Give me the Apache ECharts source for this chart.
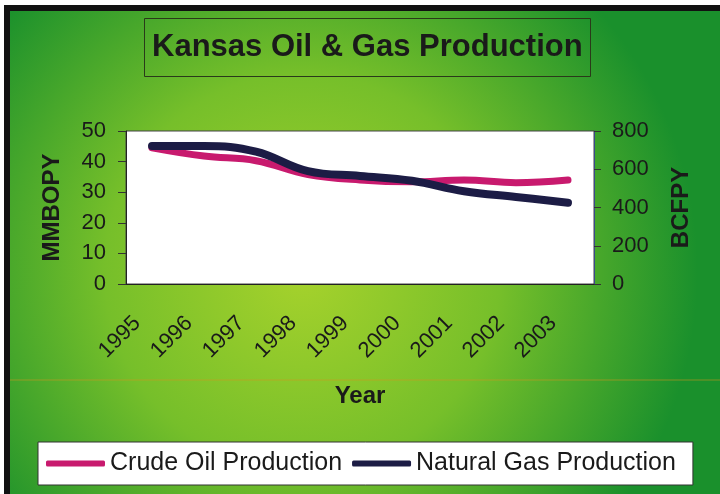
<!DOCTYPE html>
<html>
<head>
<meta charset="utf-8">
<script src="https://cdn.jsdelivr.net/npm/echarts@6/dist/echarts.min.js"></script>
<style>
  html, body { margin: 0; padding: 0; background: #fff; }
  #chart { width: 720px; height: 494px; }
</style>
</head>
<body>
<div id="chart"></div>
<script>
// values
const years = ["1995", "1996", "1997", "1998", "1999", "2000", "2001", "2002", "2003"];
const crudeOil = [44.5, 41.8, 40.3, 35.8, 34, 33.4, 34, 33.1, 34];   // MMBOPY
const naturalGas = [722, 722, 692, 590, 565, 540, 485, 455, 425];   // BCFPY
const leftTicks = { min: 0, max: 50, interval: 10 };
const rightTicks = { min: 0, max: 800, interval: 200 };

const font = "Liberation Sans, Arial, sans-serif";
const ink = "#1a1a1a";

let chart = echarts.init(document.getElementById("chart"));

let option = {
  backgroundColor: new echarts.graphic.RadialGradient(0.42, 0.55, 0.8, [
    { offset: 0, color: "#a6d22c" },
    { offset: 0.5, color: "#76bf2a" },
    { offset: 1, color: "#1a902c" }
  ]),
  textStyle: { fontFamily: font, color: ink },
  title: {
    text: "Kansas Oil & Gas Production",
    left: 144,
    top: 18,
    padding: [14, 8, 14, 8],
    borderColor: "#2a3a1a",
    borderWidth: 1,
    textStyle: { fontSize: 31, fontWeight: "bold", color: ink, fontFamily: font }
  },
  legend: {
    left: 38,
    top: 442,
    padding: [9, 17, 9, 8],
    backgroundColor: "#fff",
    borderColor: "#333",
    borderWidth: 1,
    itemGap: 10,
    itemWidth: 59,
    itemHeight: 6,
    icon: "roundRect",
    textStyle: { fontSize: 25, color: ink, fontFamily: font },
    data: ["Crude Oil Production", "Natural Gas Production"]
  },
  grid: {
    left: 126,
    right: 126,
    top: 131,
    bottom: 210,
    show: true,
    backgroundColor: "#fff",
    borderColor: "#444",
    borderWidth: 1
  },
  xAxis: {
    type: "category",
    data: years,
    boundaryGap: true,
    name: "Year",
    nameLocation: "middle",
    nameGap: 100,
    nameTextStyle: { fontSize: 24, fontWeight: "bold", color: ink },
    axisLine: { lineStyle: { color: "#222", width: 1 } },
    axisTick: { length: 8, lineStyle: { color: "#333" } },
    axisLabel: {
      rotate: 45,
      margin: 21,
      padding: [0, 21, 0, 0],
      fontSize: 22,
      color: ink
    },
    splitLine: { show: false }
  },
  yAxis: [
    {
      type: "value",
      position: "left",
      min: leftTicks.min,
      max: leftTicks.max,
      interval: leftTicks.interval,
      name: "MMBOPY",
      nameLocation: "middle",
      nameRotate: 90,
      nameGap: 62,
      nameTextStyle: { fontSize: 24, fontWeight: "bold", color: ink },
      axisLine: { show: true, lineStyle: { color: "#222" } },
      axisTick: { show: true, length: 8, lineStyle: { color: "#333" } },
      axisLabel: { fontSize: 22, color: ink, margin: 20 },
      splitLine: { show: false }
    },
    {
      type: "value",
      position: "right",
      min: rightTicks.min,
      max: rightTicks.max,
      interval: rightTicks.interval,
      name: "BCFPY",
      nameLocation: "middle",
      nameRotate: 90,
      nameGap: 75,
      nameTextStyle: { fontSize: 24, fontWeight: "bold", color: ink },
      axisLine: { show: true, lineStyle: { color: "#3a4a8a" } },
      axisTick: { show: true, length: 7, lineStyle: { color: "#333" } },
      axisLabel: { fontSize: 22, color: ink, margin: 18 },
      splitLine: { show: false }
    }
  ],
  series: [
    {
      name: "Crude Oil Production",
      type: "line",
      yAxisIndex: 0,
      smooth: 0.4,
      symbol: "none",
      data: crudeOil,
      color: "#c81a6e",
      lineStyle: { width: 7, color: "#c81a6e", cap: "round", join: "round" },
      z: 2
    },
    {
      name: "Natural Gas Production",
      type: "line",
      yAxisIndex: 1,
      smooth: 0.4,
      symbol: "none",
      data: naturalGas,
      color: "#1c1c45",
      lineStyle: { width: 8, color: "#1c1c45", cap: "round", join: "round" },
      z: 3
    }
  ],
  graphic: [
    // faint orange rule under the year labels
    { type: "line", shape: { x1: 0, y1: 380, x2: 720, y2: 380 }, style: { stroke: "rgba(214,150,30,0.55)", lineWidth: 1 }, silent: true },
    // white margin and black frame on top/left
    { type: "rect", shape: { x: 0, y: 0, width: 720, height: 5 }, style: { fill: "#fff" }, silent: true },
    { type: "rect", shape: { x: 0, y: 0, width: 4, height: 494 }, style: { fill: "#fff" }, silent: true },
    { type: "rect", shape: { x: 4, y: 5, width: 716, height: 6 }, style: { fill: "#111" }, silent: true },
    { type: "rect", shape: { x: 4, y: 5, width: 6, height: 489 }, style: { fill: "#111" }, silent: true }
  ]
};

chart.setOption(option);
</script>
</body>
</html>
